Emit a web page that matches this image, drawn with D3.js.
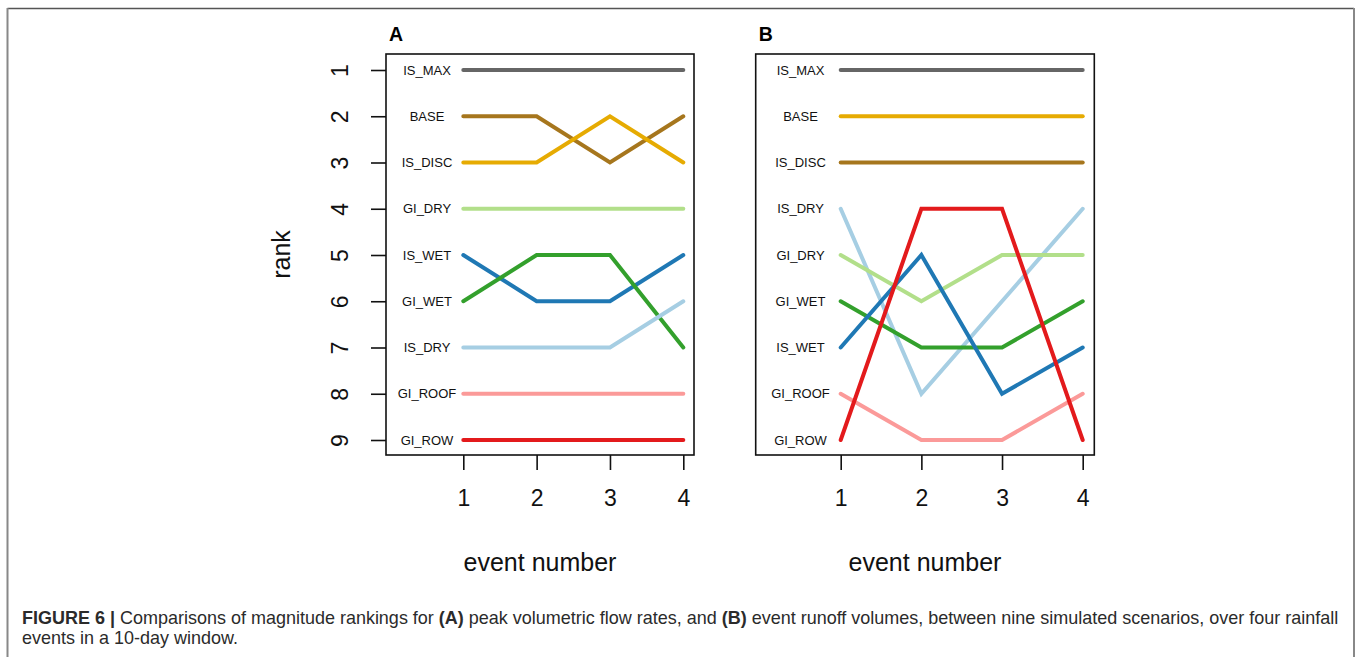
<!DOCTYPE html>
<html>
<head>
<meta charset="utf-8">
<script src="https://cdn.jsdelivr.net/npm/d3@7"></script>
<style>
  body { margin: 0; background: #fff; }
  svg { display: block; font-family: "Liberation Sans", Arial, sans-serif; }
</style>
</head>
<body>
<svg id="fig" width="1357" height="657"></svg>
<script>
// data
var events = [1, 2, 3, 4]
var ranks = [1, 2, 3, 4, 5, 6, 7, 8, 9]

var namesA = ["IS_MAX", "BASE", "IS_DISC", "GI_DRY", "IS_WET", "GI_WET", "IS_DRY", "GI_ROOF", "GI_ROW"]
var ranksA = [
  [1, 1, 1, 1],
  [2, 2, 3, 2],
  [3, 3, 2, 3],
  [4, 4, 4, 4],
  [5, 6, 6, 5],
  [6, 5, 5, 7],
  [7, 7, 7, 6],
  [8, 8, 8, 8],
  [9, 9, 9, 9]
]
var colorsA = ["#666666", "#a6761d", "#e6ab02", "#b2df8a", "#1f78b4", "#33a02c", "#a6cee3", "#fb9a99", "#e31a1c"]

var namesB = ["IS_MAX", "BASE", "IS_DISC", "IS_DRY", "GI_DRY", "GI_WET", "IS_WET", "GI_ROOF", "GI_ROW"]
var ranksB = [
  [1, 1, 1, 1],
  [2, 2, 2, 2],
  [3, 3, 3, 3],
  [4, 8, 6, 4],
  [5, 6, 5, 5],
  [6, 7, 7, 6],
  [7, 5, 8, 7],
  [8, 9, 9, 8],
  [9, 4, 4, 9]
]
var colorsB = ["#666666", "#e6ab02", "#a6761d", "#a6cee3", "#b2df8a", "#33a02c", "#1f78b4", "#fb9a99", "#e31a1c"]

var caption1 = [
  ["FIGURE 6 | ", true],
  ["Comparisons of magnitude rankings for ", false],
  ["(A)", true],
  [" peak volumetric flow rates, and ", false],
  ["(B)", true],
  [" event runoff volumes, between nine simulated scenarios, over four rainfall", false]
]
var caption2 = "events in a 10-day window."

var svg = d3.select('#fig')

// outer frame
svg.append("line").attr("x1", 7.5).attr("x2", 1354).attr("y1", 8.5).attr("y2", 8.5)
  .attr("stroke", "#555").attr("stroke-width", 1.5)
svg.append("line").attr("x1", 7.5).attr("x2", 7.5).attr("y1", 8).attr("y2", 657)
  .attr("stroke", "#888").attr("stroke-width", 2)
svg.append("line").attr("x1", 1354).attr("x2", 1354).attr("y1", 8).attr("y2", 657)
  .attr("stroke", "#888").attr("stroke-width", 2)

var y = d3.scaleLinear().domain([1, 9]).range([70, 440])
var boxTop = 54, boxBottom = 455

function panel(opts){
  var x = d3.scaleLinear().domain([1, 4]).range(opts.xr)
  var g = svg.append("g")

  g.append("text")
    .attr("x", opts.box[0] + 3).attr("y", 41)
    .attr("font-size", 19.5).attr("font-weight", "bold")
    .text(opts.letter)

  var line = d3.line().x(function(d, i){ return x(events[i]) }).y(function(d){ return y(d) })

  g.selectAll("path.series").data(opts.ranks).enter()
    .append("path")
    .attr("class", "series")
    .attr("d", line)
    .attr("fill", "none")
    .attr("stroke", function(d, i){ return opts.colors[i] })
    .attr("stroke-width", 4)
    .attr("stroke-linecap", "round")
    .attr("stroke-linejoin", "miter")

  g.selectAll("text.name").data(opts.names).enter()
    .append("text")
    .attr("class", "name")
    .attr("x", opts.labelX)
    .attr("y", function(d, i){ return y(opts.ranks[i][0]) })
    .attr("dy", "0.35em")
    .attr("text-anchor", "middle")
    .attr("font-size", 13)
    .attr("fill", "#111")
    .text(function(d){ return d })

  g.append("rect")
    .attr("x", opts.box[0]).attr("y", boxTop)
    .attr("width", opts.box[1] - opts.box[0]).attr("height", boxBottom - boxTop)
    .attr("fill", "none").attr("stroke", "#111").attr("stroke-width", 1.6)

  // x axis
  var xa = g.append("g").attr("transform", "translate(0," + boxBottom + ")")
    .call(d3.axisBottom(x).tickValues(events).tickSize(15).tickPadding(20).tickFormat(d3.format("d")))
  xa.select(".domain").remove()
  xa.selectAll("line").attr("stroke", "#111").attr("stroke-width", 1.6)
  xa.selectAll("text").attr("font-size", 23).attr("font-family", "Liberation Sans, Arial, sans-serif").attr("fill", "#111")

  g.append("text")
    .attr("x", (opts.box[0] + opts.box[1]) / 2).attr("y", 571)
    .attr("text-anchor", "middle").attr("font-size", 25).attr("fill", "#111")
    .text("event number")

  if (opts.yaxis) {
    var ya = g.append("g").attr("transform", "translate(" + opts.box[0] + ",0)")
      .call(d3.axisLeft(y).tickValues(ranks).tickSize(15).tickFormat(d3.format("d")))
    ya.select(".domain").remove()
    ya.selectAll("line").attr("stroke", "#111").attr("stroke-width", 1.6)
    ya.selectAll("text")
      .attr("x", null).attr("dy", null)
      .attr("transform", "translate(-38,0) rotate(-90)")
      .attr("text-anchor", "middle")
      .attr("font-size", 23).attr("font-family", "Liberation Sans, Arial, sans-serif").attr("fill", "#111")

    g.append("text")
      .attr("transform", "translate(290," + (boxTop + boxBottom) / 2 + ") rotate(-90)")
      .attr("text-anchor", "middle").attr("font-size", 25).attr("fill", "#111")
      .text("rank")
  }
}

panel({ letter: "A", box: [386, 694], xr: [463.3, 683.3], labelX: 427, names: namesA, ranks: ranksA, colors: colorsA, yaxis: true })
panel({ letter: "B", box: [755.7, 1094.3], xr: [840.7, 1082.7], labelX: 800.5, names: namesB, ranks: ranksB, colors: colorsB, yaxis: false })

// caption
var cap = svg.append("g").attr("fill", "#2b2b2b")
var t1 = cap.append("text").attr("x", 22).attr("y", 624).attr("font-size", 16)
t1.selectAll("tspan").data(caption1).enter().append("tspan")
  .attr("font-weight", function(d){ return d[1] ? "bold" : "normal" })
  .text(function(d){ return d[0] })
var w = t1.node().getComputedTextLength()
var fs = 16 * (1339 - 22) / w
t1.attr("font-size", fs)
cap.append("text").attr("x", 22).attr("y", 643.5).attr("font-size", fs).text(caption2)
</script>
</body>
</html>
